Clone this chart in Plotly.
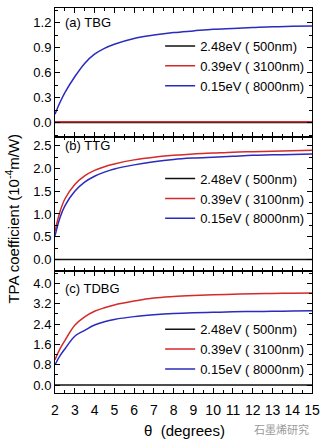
import plotly.graph_objects as go
from plotly.subplots import make_subplots

theta = [2, 2.25, 2.5, 3, 3.5, 4, 4.5, 5, 6, 7, 8, 9, 10, 11, 12, 13, 14, 15]

# (a) TBG
tbg_black = [0.0] * len(theta)
tbg_red = [0.01] * len(theta)
tbg_blue = [0.10, 0.24, 0.36, 0.55, 0.71, 0.82, 0.89, 0.94, 1.01, 1.05, 1.08, 1.10, 1.12, 1.13, 1.14, 1.15, 1.155, 1.16]
# (b) TTG
ttg_black = [0.0] * len(theta)
ttg_red = [0.62, 1.05, 1.33, 1.65, 1.84, 1.96, 2.04, 2.10, 2.19, 2.25, 2.29, 2.32, 2.34, 2.36, 2.37, 2.38, 2.39, 2.40]
ttg_blue = [0.52, 0.92, 1.18, 1.50, 1.70, 1.83, 1.92, 1.99, 2.08, 2.15, 2.20, 2.23, 2.25, 2.27, 2.29, 2.30, 2.31, 2.32]
# (c) TDBG
tdbg_black = [0.0] * len(theta)
tdbg_red = [1.0, 1.42, 1.75, 2.35, 2.68, 2.90, 3.04, 3.15, 3.30, 3.42, 3.48, 3.52, 3.55, 3.57, 3.59, 3.60, 3.61, 3.62]
tdbg_blue = [0.80, 1.15, 1.42, 1.92, 2.15, 2.36, 2.49, 2.58, 2.69, 2.76, 2.81, 2.84, 2.86, 2.88, 2.89, 2.90, 2.91, 2.92]

names = ["2.48eV ( 500nm)", "0.39eV ( 3100nm)", "0.15eV ( 8000nm)"]
colors = ["#111111", "#d42a2a", "#2b2bbd"]
panels = [("(a) TBG", [tbg_black, tbg_red, tbg_blue]),
          ("(b) TTG", [ttg_black, ttg_red, ttg_blue]),
          ("(c) TDBG", [tdbg_black, tdbg_red, tdbg_blue])]

y_ranges = [[-0.17, 1.375], [-0.26, 2.70], [-0.31, 4.47]]
y_dticks = [0.3, 0.5, 0.8]

W, H = 327, 444
mt, mb, ml, mr = 7, 51, 55, 8
ph = H - mt - mb
pw = W - ml - mr

def py(px):
    return (H - mb - px) / ph

def pxr(px):
    return (px - ml) / pw

# panel pixel bounds: a 7-136, b 136-271, c 271-393
bounds = [(7, 136), (136, 271), (271, 393)]

fig = make_subplots(rows=3, cols=1, shared_xaxes=True, vertical_spacing=0)
legend_names = ["legend", "legend2", "legend3"]
for i, (lab, series) in enumerate(panels):
    for j in range(3):
        fig.add_trace(go.Scatter(x=theta, y=series[j], mode="lines", name=names[j],
                                 line=dict(color=colors[j], width=1.5, shape="spline"),
                                 legend=legend_names[i]), row=i + 1, col=1)

font_main = "Liberation Sans, Arial, sans-serif"
axis_common = dict(showline=True, linecolor="black", linewidth=1, mirror="ticks",
                   ticks="inside", ticklen=5, tickcolor="black", showgrid=False,
                   zeroline=False)

layout = dict(width=W, height=H, margin=dict(l=ml, r=mr, t=mt, b=mb),
              plot_bgcolor="white", paper_bgcolor="white",
              font=dict(family=font_main, color="black"))

for i in range(3):
    top, bot = bounds[i]
    yk = "yaxis" if i == 0 else f"yaxis{i+1}"
    xk = "xaxis" if i == 0 else f"xaxis{i+1}"
    layout[yk] = dict(domain=[py(bot), py(top)], range=y_ranges[i], dtick=y_dticks[i], tick0=0,
                      tickformat=".1f", tickfont=dict(size=13, color="black", family=font_main),
                      minor=dict(ticks="inside", ticklen=3, dtick=y_dticks[i] / 2, tickcolor="black"),
                      **axis_common)
    layout[xk] = dict(range=[2, 15], dtick=1, tick0=2,
                      showticklabels=(i == 2), ticklabelstandoff=4,
                      tickfont=dict(size=14, color="black", family=font_main),
                      minor=dict(ticks="inside", ticklen=3, dtick=0.5, tickcolor="black"),
                      **axis_common)

leg_tops = [30, 163, 314]
for i in range(3):
    lk = legend_names[i]
    layout[lk] = dict(x=pxr(163), y=py(leg_tops[i]), xanchor="left", yanchor="top",
                      bgcolor="rgba(0,0,0,0)", font=dict(size=13, color="black", family=font_main),
                      tracegroupgap=0, itemwidth=30)

fig.update_layout(**layout)

annots = []
label_y = [22, 145, 288]
for i, (lab, _) in enumerate(panels):
    annots.append(dict(text=lab, x=pxr(63), y=py(label_y[i]), xref="paper", yref="paper",
                       xanchor="left", yanchor="middle", showarrow=False,
                       font=dict(size=13, color="black", family=font_main)))
annots.append(dict(text="TPA coefficient (10<sup>-4</sup>m/W)", x=pxr(11), y=py(218),
                   xref="paper", yref="paper", xanchor="center", yanchor="middle",
                   textangle=-90, showarrow=False,
                   font=dict(size=15, color="black", family=font_main)))
annots.append(dict(text="θ\u00a0\u00a0(degrees)", x=pxr(188), y=py(431), xref="paper", yref="paper",
                   xanchor="center", yanchor="middle", showarrow=False,
                   font=dict(size=15, color="black", family=font_main)))
annots.append(dict(text="石墨烯研究", x=pxr(318), y=py(429), xref="paper", yref="paper",
                   xanchor="right", yanchor="middle", showarrow=False,
                   font=dict(size=11, color="#9a9a9a", family="Noto Sans CJK SC")))
fig.update_layout(annotations=annots)

fig.write_html("out.html")
